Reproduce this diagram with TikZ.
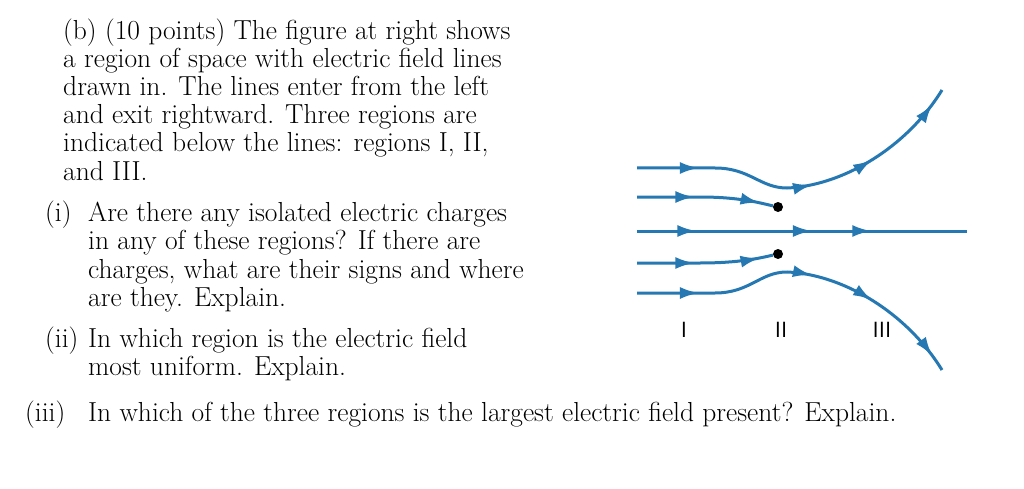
\documentclass[tikz,border=0pt]{standalone}
\usepackage{tikz}
\usetikzlibrary{decorations.markings,arrows.meta}
\definecolor{fieldblue}{RGB}{38,120,178}
\begin{document}
\begin{tikzpicture}[x=1pt,y=-1pt,
    txt/.style={anchor=base west, inner sep=0pt, font=\fontsize{27.5}{30}\selectfont},
    field/.style={draw=fieldblue, line width=3pt},
    tip/.style={postaction={decorate, decoration={markings,
        mark=at position #1 with {\arrow[fieldblue]{Latex[length=19pt,width=12pt]}}}}},
    charge/.style={circle, fill=black, inner sep=0pt, minimum size=10pt},
    region/.style={font=\sffamily\fontsize{22}{22}\selectfont}
  ]
  \useasboundingbox (0,0) rectangle (1024,489);
  %Text
  \node[txt] (b1) at (63,40) {(b) (10 points) The figure at right shows};
  \node[txt] (b2) at (63,68) {a region of space with electric field lines};
  \node[txt] (b3) at (63,96) {drawn in. The lines enter from the left};
  \node[txt] (b4) at (63,124) {and exit rightward. Three regions are};
  \node[txt] (b5) at (63,152) {indicated below the lines: regions I, II,};
  \node[txt] (b6) at (63,180) {and III.};
  \node[txt] (i0) at (45,221) {(i)};
  \node[txt] (i1) at (88,221) {Are there any isolated electric charges};
  \node[txt] (i2) at (88,249) {in any of these regions? If there are};
  \node[txt] (i3) at (88,278) {charges, what are their signs and where};
  \node[txt] (i4) at (88,306) {are they. Explain.};
  \node[txt] (ii0) at (45,347) {(ii)};
  \node[txt] (ii1) at (88,347) {In which region is the electric field};
  \node[txt] (ii2) at (88,375) {most uniform. Explain.};
  \node[txt] (iii0) at (25,421) {(iii)};
  \node[txt] (iii1) at (88,421) {In which of the three regions is the largest electric field present? Explain.};
  %Charges
  \node[charge] (qtop) at (778,207) {};
  \node[charge] (qbot) at (778,254) {};
  %Field lines
  \coordinate (s1) at (637,168);
  \coordinate (s2) at (637,197);
  \coordinate (s3) at (637,231);
  \coordinate (s4) at (637,263);
  \coordinate (s5) at (637,293);
  \coordinate (e1) at (942,90);
  \coordinate (e3) at (967,231);
  \coordinate (e5) at (942,370);
  \path[field, tip=0.18, tip=0.52, tip=0.71, tip=0.95]
    (s1) -- (715,168) .. controls (750,168) and (760,188) .. (787,188)
    .. controls (840,186) and (905,150) .. (e1);
  \path[field, tip=0.42, tip=0.90]
    (s2) -- (700,197) .. controls (740,197) and (760,203) .. (qtop);
  \path[field, tip=0.18, tip=0.53, tip=0.71] (s3) -- (e3);
  \path[field, tip=0.42, tip=0.90]
    (s4) -- (700,263) .. controls (740,263) and (760,258) .. (qbot);
  \path[field, tip=0.18, tip=0.52, tip=0.71, tip=0.95]
    (s5) -- (715,293) .. controls (750,293) and (760,272) .. (787,272)
    .. controls (840,274) and (905,310) .. (e5);
  %Regions
  \node[region] (r1) at (684,330) {I};
  \node[region] (r2) at (781,330) {II};
  \node[region] (r3) at (882,330) {III};
\end{tikzpicture}
\end{document}
